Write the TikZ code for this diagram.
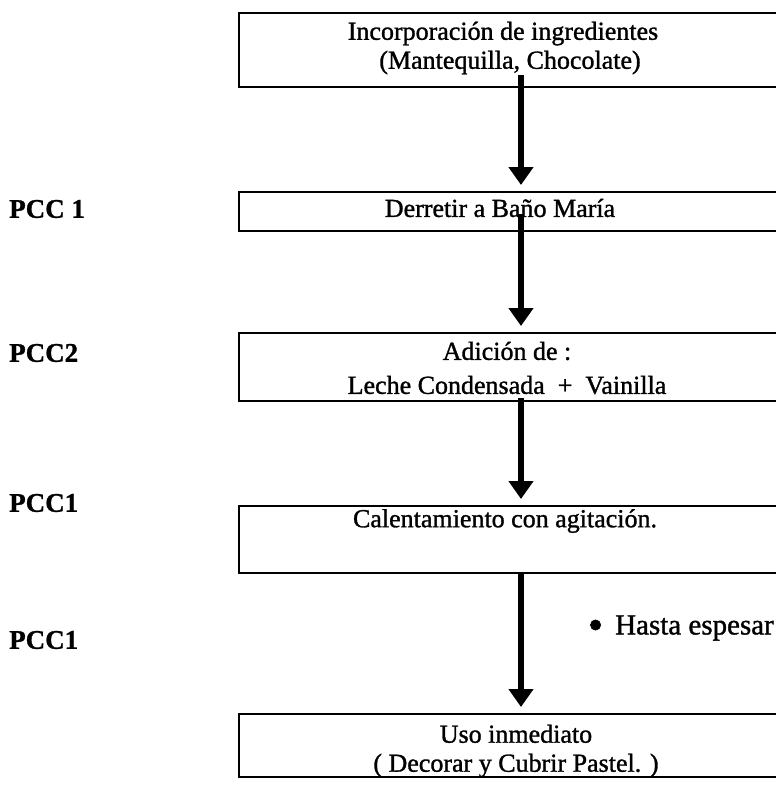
\documentclass[tikz,border=0pt]{standalone}
\usepackage{fontspec}
\setmainfont{Liberation Serif}
\newfontfamily\inkfont{Liberation Serif}[FakeBold=1.2]
\newfontfamily\inkboldfont{Liberation Serif Bold}[FakeBold=1]
\usetikzlibrary{arrows.meta,calc}
\begin{document}
\begin{tikzpicture}[x=1pt,y=-1pt,
  stepbox/.style={draw, line width=2pt, minimum width=560pt, anchor=north west, inner sep=0pt},
  boxtext/.style={font=\inkfont\fontsize{26}{29}\selectfont, align=center, inner sep=0pt},
  pcc/.style={font=\inkboldfont\fontsize{27}{30}\selectfont, anchor=west, inner sep=0pt},
  flow/.style={line width=6pt, -{Triangle[width=24pt,length=18pt]}, shorten >=6pt}]
\useasboundingbox (0,0) rectangle (776,785);

% process boxes (they run past the right margin)
\node[stepbox, minimum height=74pt] (b1) at (238,12) {};
\node[stepbox, minimum height=39pt] (b2) at (238,191) {};
\node[stepbox, minimum height=68pt] (b3) at (238,332) {};
\node[stepbox, minimum height=67pt] (b4) at (238,505) {};
\node[stepbox, minimum height=63pt] (b5) at (238,713) {};

% box texts
\node[boxtext] (t1) at (503,48) {Incorporación de ingredientes\\\hspace*{14pt}(Mantequilla, Chocolate)};
\node[boxtext] (t2) at (500,208) {Derretir a Baño María};
\node[boxtext] (t3) at (507,368) {Adición de :\\[5pt]Leche Condensada\ \ +\ \ Vainilla};
\node[boxtext] (t4) at (505,521) {Calentamiento con agitación.};
\node[boxtext] (t5) at (516,751) {Uso inmediato\\( Decorar y Cubrir Pastel. )};

% control point labels
\node[pcc] (p1) at (9,209) {PCC 1};
\node[pcc] (p2) at (9,353) {PCC2};
\node[pcc] (p3) at (9,503) {PCC1};
\node[pcc] (p4) at (9,640) {PCC1};

% side note
\node[anchor=east, inner sep=0pt, font=\inkfont\fontsize{29}{32}\selectfont] (note) at (774,628)
  {\raisebox{-5pt}{\scalebox{1.5}{\textbullet}}\hspace{12pt}Hasta espesar};

% flow arrows
\coordinate (axis) at (521,0);
\draw[flow] ($(b1.south -| axis)+(0,-13)$) -- (b2.north -| axis);
\draw[flow] ($(b2.south -| axis)+(0,-18)$) -- (b3.north -| axis);
\draw[flow] ($(b3.south -| axis)+(0,-4)$) -- (b4.north -| axis);
\draw[flow] (b4.south -| axis) -- (b5.north -| axis);
\end{tikzpicture}
\end{document}
